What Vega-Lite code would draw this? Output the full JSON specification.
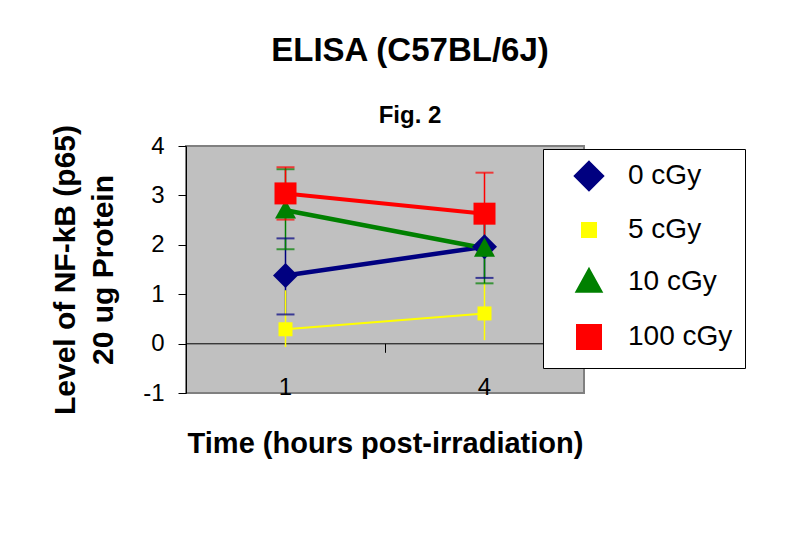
{
  "$schema": "https://vega.github.io/schema/vega-lite/v6.json",
  "autosize": "none",
  "width": 398,
  "height": 247,
  "padding": {"left": 186, "top": 146, "right": 206, "bottom": 159},
  "background": "white",
  "title": {
    "text": "ELISA (C57BL/6J)",
    "subtitle": "Fig. 2",
    "font": "Liberation Sans",
    "fontSize": 33,
    "fontWeight": "bold",
    "color": "black",
    "subtitleFont": "Liberation Sans",
    "subtitleFontSize": 24,
    "subtitleFontWeight": "bold",
    "subtitleColor": "black",
    "subtitlePadding": 36,
    "anchor": "middle",
    "dx": 25,
    "offset": -4
  },
  "data": {
    "values": [
      {"series": "0 cGy", "time": "1", "value": 1.38, "low": 0.59, "high": 2.13},
      {"series": "0 cGy", "time": "4", "value": 1.96, "low": 1.33, "high": 2.59},
      {"series": "5 cGy", "time": "1", "value": 0.29, "low": -0.07, "high": 1.08},
      {"series": "5 cGy", "time": "4", "value": 0.61, "low": 0.07, "high": 1.25},
      {"series": "10 cGy", "time": "1", "value": 2.7, "low": 1.91, "high": 3.53},
      {"series": "10 cGy", "time": "4", "value": 1.93, "low": 1.22, "high": 2.64},
      {"series": "100 cGy", "time": "1", "value": 3.04, "low": 2.51, "high": 3.57},
      {"series": "100 cGy", "time": "4", "value": 2.63, "low": 1.8, "high": 3.46}
    ]
  },
  "resolve": {"axis": {"x": "independent"}},
  "layer": [
    {
      "mark": {"type": "rule", "strokeWidth": 1.5},
      "encoding": {
        "x": {
          "field": "time", "type": "ordinal",
          "scale": {"type": "band", "paddingInner": 0, "paddingOuter": 0},
          "axis": {"orient": "bottom", "offset": -49.7, "bandPosition": 0, "labels": false, "ticks": true, "tickSize": 9, "tickColor": "black", "tickWidth": 1, "domain": true, "domainColor": "black", "domainWidth": 1, "title": null, "grid": false}
        },
        "y": {"field": "low", "type": "quantitative", "scale": {"domain": [-1, 4], "nice": false}, "axis": {"values": [-1, 0, 1, 2, 3, 4]}, "title": ["Level of NF-kB (p65)", "20 ug Protein"]},
        "y2": {"field": "high"},
        "color": {"field": "series", "type": "nominal", "scale": {"domain": ["0 cGy", "5 cGy", "10 cGy", "100 cGy"], "range": ["#000080", "#FFFF00", "#008000", "#FF0000"]}}
      }
    },
    {
      "transform": [
        {"filter": "datum.series !== '5 cGy'"},
        {"fold": ["low", "high"], "as": ["end", "endValue"]}
      ],
      "mark": {"type": "tick", "size": 18, "thickness": 2},
      "encoding": {
        "x": {"field": "time", "type": "ordinal", "axis": null},
        "y": {"field": "endValue", "type": "quantitative", "title": ["Level of NF-kB (p65)", "20 ug Protein"], "axis": {"values": [-1, 0, 1, 2, 3, 4]}},
        "color": {"field": "series", "type": "nominal"}
      }
    },
    {
      "mark": {"type": "line"},
      "encoding": {
        "x": {
          "field": "time", "type": "ordinal",
          "axis": {"orient": "bottom", "labelFontSize": 24, "labelFont": "Liberation Sans", "labelColor": "black", "labelAngle": 0, "labelPadding": -18, "domain": false, "ticks": false, "grid": false, "title": "Time (hours  post-irradiation)", "titleFont": "Liberation Sans", "titleFontSize": 29, "titleFontWeight": "bold", "titleColor": "black", "titlePadding": 30}
        },
        "y": {"field": "value", "type": "quantitative", "title": ["Level of NF-kB (p65)", "20 ug Protein"], "axis": {"values": [-1, 0, 1, 2, 3, 4]}},
        "color": {"field": "series", "type": "nominal"},
        "strokeWidth": {"field": "series", "type": "nominal", "scale": {"type": "ordinal", "domain": ["0 cGy", "5 cGy", "10 cGy", "100 cGy"], "range": [4.5, 2, 4.5, 4]}}
      }
    },
    {
      "mark": {"type": "point", "filled": true, "opacity": 1, "strokeWidth": 0},
      "encoding": {
        "x": {"field": "time", "type": "ordinal", "axis": null},
        "y": {"field": "value", "type": "quantitative", "title": ["Level of NF-kB (p65)", "20 ug Protein"], "axis": {"values": [-1, 0, 1, 2, 3, 4]}},
        "color": {
          "field": "series", "type": "nominal",
          "legend": {
            "orient": "none",
            "legendX": 357,
            "legendY": 3,
            "title": null,
            "padding": 12,
            "fillColor": "white",
            "strokeColor": "black",
            "labelFont": "Liberation Sans",
            "labelFontSize": 28,
            "labelColor": "black",
            "symbolSize": 400,
            "symbolOffset": 19,
            "labelOffset": 24,
            "rowPadding": 18
          }
        },
        "shape": {"field": "series", "type": "nominal", "scale": {"domain": ["0 cGy", "5 cGy", "10 cGy", "100 cGy"], "range": ["M0,-1L1,0L0,1L-1,0Z", "M-1,-1H1V1H-1Z", "M0,-1L1,0.8L-1,0.8Z", "M-1,-1H1V1H-1Z"]}},
        "size": {"field": "series", "type": "nominal", "scale": {"type": "ordinal", "domain": ["0 cGy", "5 cGy", "10 cGy", "100 cGy"], "range": [625, 196, 441, 484]}}
      }
    }
  ],
  "config": {
    "font": "Liberation Sans",
    "view": {"fill": "#C0C0C0", "stroke": "#808080", "strokeWidth": 2},
    "legend": {"symbolOpacity": 1},
    "axisY": {
      "grid": false,
      "domainColor": "black",
      "domainWidth": 1,
      "tickColor": "black",
      "tickWidth": 1,
      "tickSize": 8,
      "labelFont": "Liberation Sans",
      "labelFontSize": 24,
      "labelColor": "black",
      "labelPadding": 14,
      "labelExpr": "replace(datum.label, '\u2212', '-')",
      "titleFont": "Liberation Sans",
      "titleFontSize": 30,
      "titleFontWeight": "bold",
      "titleColor": "black",
      "titleLineHeight": 38,
      "titlePadding": 24
    }
  }
}
